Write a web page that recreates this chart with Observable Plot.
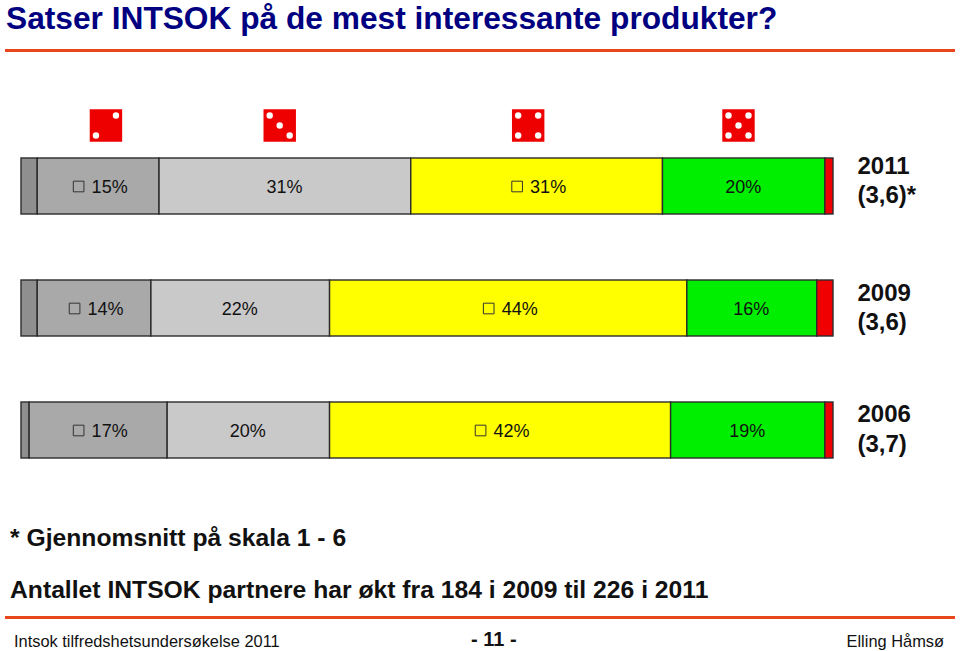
<!DOCTYPE html>
<html>
<head>
<meta charset="utf-8">
<script src="https://cdn.jsdelivr.net/npm/d3@7"></script>
<script src="https://cdn.jsdelivr.net/npm/@observablehq/plot@0.6"></script>
<style>
html,body{margin:0;padding:0;background:#fff;}
#page{position:relative;width:960px;height:651px;overflow:hidden;font-family:"Liberation Sans",Arial,sans-serif;}
#page div.t{position:absolute;white-space:nowrap;line-height:1.15;}
#page div.r{position:absolute;left:5px;width:950px;height:3px;background:#e8471c;}
#chart{position:absolute;left:0;top:0;}
</style>
</head>
<body>
<div id="page">
  <div id="chart"></div>
  <div class="t" style="left:6px;top:0px;font-size:31.7px;font-weight:bold;color:#000080;">Satser INTSOK på de mest interessante produkter?</div>
  <div class="r" style="top:49px;"></div>
  <div class="t" style="left:10px;top:524px;font-size:24.7px;font-weight:bold;color:#111;">* Gjennomsnitt på skala 1 - 6</div>
  <div class="t" style="left:10px;top:576px;font-size:24.7px;font-weight:bold;color:#111;">Antallet INTSOK partnere har økt fra 184 i 2009 til 226 i 2011</div>
  <div class="r" style="top:616px;"></div>
  <div class="t" style="left:14px;top:632px;font-size:16.4px;color:#111;">Intsok tilfredshetsundersøkelse 2011</div>
  <div class="t" style="left:471px;top:628px;font-size:20px;font-weight:bold;color:#111;">- 11 -</div>
  <div class="t" style="right:16px;top:632px;font-size:16.4px;color:#111;">Elling Håmsø</div>
</div>
<script>
const years = ["2011", "2009", "2006"];
const means = ["(3,6)*", "(3,6)", "(3,7)"];
const faces = [1, 2, 3, 4, 5, 6];
const faceColors = ["#8f8f8f", "#a9a9a9", "#c9c9c9", "#ffff00", "#00ee00", "#f00000"];
const shares2011 = [2, 15, 31, 31, 20, 1];
const shares2009 = [2, 14, 22, 44, 16, 2];
const shares2006 = [1, 17, 20, 42, 19, 1];
const squareFaces = [2, 4];
const diceFaces = [2, 3, 4, 5];
const diceAt = [10.4, 31.8, 62.4, 88.3];
const labelNudge = [-7.5, -2.5, -3];

const series = [shares2011, shares2009, shares2006];
const rows = years.flatMap((year, i) =>
  faces.map((face, j) => ({year, face, value: series[i][j]}))
);
const hasSquare = d => d.value > 2 && squareFaces.includes(d.face);
const plainPct = d => d.value > 2 && !hasSquare(d) ? d.value + "%" : "";
const squarePct = d => hasSquare(d) ? d.value + "%" : "";

const pipLayouts = {
  2: [[1, -1], [-1, 1]],
  3: [[-1, -1], [0, 0], [1, 1]],
  4: [[-1, -1], [1, -1], [-1, 1], [1, 1]],
  5: [[-1, -1], [1, -1], [0, 0], [-1, 1], [1, 1]]
};
const dice = diceFaces.map((face, i) => ({face, at: diceAt[i]}));
const pipMarks = [-1, 0, 1].flatMap(a => [-1, 0, 1].map(b =>
  Plot.dot(dice.filter(d => pipLayouts[d.face].some(p => p[0] === a && p[1] === b)), {
    x: "at", frameAnchor: "top", dy: 125 + b * 10, dx: a * 10,
    r: 3.2, fill: "white", stroke: "none"
  })
));

const plot = Plot.plot({
  width: 960, height: 520,
  marginTop: 0, marginBottom: 0, marginLeft: 0, marginRight: 0,
  x: {domain: [0, 100], range: [21, 833], axis: null},
  y: {type: "band", domain: years, range: [158, 458.5], paddingInner: 0.543, paddingOuter: 0, align: 0.5, axis: null},
  color: {domain: faces, range: faceColors, type: "ordinal"},
  style: {background: "transparent", fontFamily: "'Liberation Sans', Arial, sans-serif"},
  marks: [
    Plot.barX(rows, Plot.stackX({
      x: "value", y: "year", fill: "face", stroke: "#2b2b2b", strokeWidth: 1.4
    })),
    Plot.text(rows, Plot.stackX({
      x: "value", y: "year", text: plainPct, fontSize: 18, fill: "#111", dx: -1, dy: 1
    })),
    Plot.text(rows, Plot.stackX({
      x: "value", y: "year", text: squarePct, fontSize: 18, fill: "#111", dx: 11, dy: 1
    })),
    Plot.dot(rows, Plot.stackX({
      x: "value", y: "year", symbol: "square", r: 6, fill: "none", dx: -20, dy: 0,
      stroke: {value: d => hasSquare(d) ? "#333333" : "none", scale: null}, strokeWidth: 1
    })),
    Plot.dot(dice, {x: "at", frameAnchor: "top", dy: 125, symbol: "square", r: 18.3, fill: "#ee0000", stroke: "none"}),
    ...pipMarks,
    ...years.map((year, i) => Plot.text([{year, end: 100, label: year + "\n" + means[i]}], {
      x: "end", y: "year", text: "label", dx: 24, dy: labelNudge[i], textAnchor: "start",
      fontSize: 24, fontWeight: "bold", lineHeight: 1.22, fill: "#111"
    }))
  ]
});
document.getElementById("chart").appendChild(plot);
</script>
</body>
</html>
